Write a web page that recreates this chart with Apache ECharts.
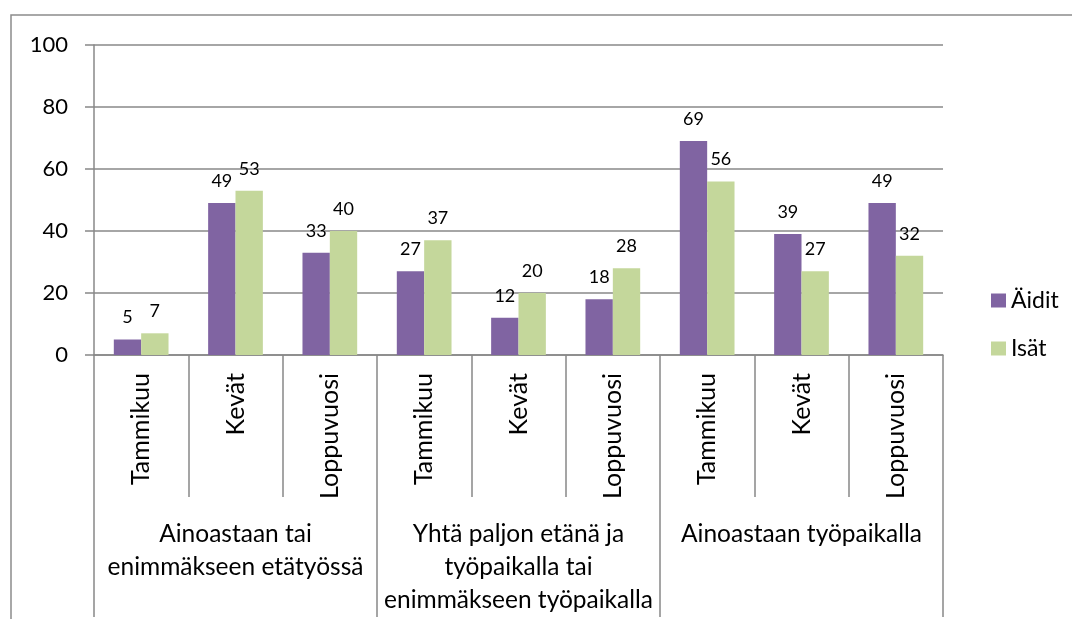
<!DOCTYPE html>
<html>
<head>
<meta charset="utf-8">
<script src="https://cdn.jsdelivr.net/npm/echarts@6/dist/echarts.min.js"></script>
<style>
  html, body { margin: 0; padding: 0; background: #fff; }
  #chart { width: 1072px; height: 619px; }
</style>
</head>
<body>
<div id="chart"></div>
<script>
// kategoriat (alempi taso) ja ryhmät (ylempi taso)
const categories = ['Tammikuu', 'Kevät', 'Loppuvuosi', 'Tammikuu', 'Kevät', 'Loppuvuosi', 'Tammikuu', 'Kevät', 'Loppuvuosi']
const groups = [
  'Ainoastaan tai\nenimmäkseen etätyössä',
  'Yhtä paljon etänä ja\ntyöpaikalla tai\nenimmäkseen työpaikalla',
  'Ainoastaan työpaikalla'
]
const aidit = [5, 49, 33, 27, 12, 18, 69, 39, 49]
const isat = [7, 53, 40, 37, 20, 28, 56, 27, 32]
const seriesNames = ['Äidit', 'Isät']

const font = 'Lato, "Open Sans", sans-serif'
const lineColor = '#888888'

const chart = echarts.init(document.getElementById('chart'))
const option = {
  animation: false,
  textStyle: { fontFamily: font, color: '#000' },
  color: ['#8064A2', '#C4D79B'],
  graphic: [{
    // kaavion ulkoreunus (vain vasen ja ylä näkyvät)
    type: 'rect',
    shape: { x: 11, y: 15, width: 1200, height: 1000 },
    style: { fill: 'none', stroke: '#8c8c8c', lineWidth: 1.5 },
    silent: true
  }],
  legend: {
    orient: 'vertical',
    left: 986,
    top: 284,
    itemWidth: 15,
    itemHeight: 14,
    itemGap: 25,
    icon: 'rect',
    data: seriesNames,
    textStyle: { fontFamily: font, fontSize: 23, color: '#000' }
  },
  grid: {
    left: 94,
    right: 129,
    top: 45,
    bottom: 264,
    containLabel: false,
    outerBoundsMode: 'none'
  },
  xAxis: [
    {
      type: 'category',
      data: categories,
      position: 'bottom',
      axisLine: { show: true, lineStyle: { color: lineColor, width: 1.5 } },
      axisTick: { show: true, interval: 0, length: 142, alignWithLabel: false, lineStyle: { color: lineColor, width: 1.5 } },
      axisLabel: {
        interval: 0,
        rotate: 90,
        margin: 18,
        fontFamily: font,
        fontSize: 25,
        color: '#000'
      }
    },
    {
      type: 'category',
      data: groups,
      position: 'bottom',
      axisLine: { show: false },
      axisTick: { show: true, interval: 0, length: 262, alignWithLabel: false, lineStyle: { color: lineColor, width: 1.5 } },
      axisLabel: {
        interval: 0,
        margin: 163,
        verticalAlign: 'top',
        lineHeight: 33,
        fontFamily: font,
        fontSize: 24.5,
        color: '#000'
      }
    }
  ],
  yAxis: {
    type: 'value',
    min: 0,
    max: 100,
    interval: 20,
    axisLine: { show: true, lineStyle: { color: lineColor, width: 1.5 } },
    axisTick: { show: true, length: 9, lineStyle: { color: lineColor, width: 1.5 } },
    splitLine: { lineStyle: { color: lineColor, width: 1.5 } },
    axisLabel: { margin: 26, fontFamily: font, fontSize: 22, color: '#000' }
  },
  series: [
    {
      name: seriesNames[0],
      type: 'bar',
      xAxisIndex: 0,
      data: aidit,
      barGap: '0%',
      barCategoryGap: '42%',
      label: { show: true, position: 'top', distance: 13, fontFamily: font, fontSize: 18, color: '#000' }
    },
    {
      name: seriesNames[1],
      type: 'bar',
      xAxisIndex: 0,
      data: isat,
      barGap: '0%',
      barCategoryGap: '42%',
      label: { show: true, position: 'top', distance: 13, fontFamily: font, fontSize: 18, color: '#000' }
    }
  ]
}
chart.setOption(option)
</script>
</body>
</html>
